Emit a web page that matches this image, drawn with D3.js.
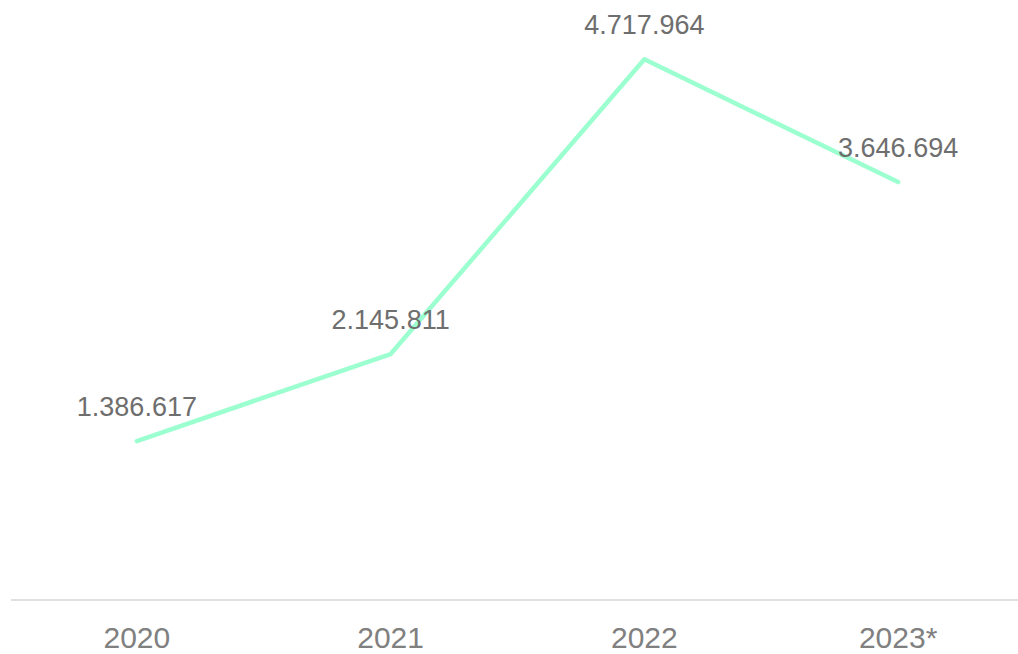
<!DOCTYPE html>
<html>
<head>
<meta charset="utf-8">
<script src="https://cdn.jsdelivr.net/npm/d3@7"></script>
<style>
  body { margin: 0; background: #fff; }
  svg { display: block; font-family: "Liberation Sans", Arial, sans-serif; }
</style>
</head>
<body>
<div id="chart"></div>
<script>
// chart data
const years = ['2020', '2021', '2022', '2023*'];
const values = [1386617, 2145811, 4717964, 3646694];
const valueLabels = ['1.386.617', '2.145.811', '4.717.964', '3.646.694'];

const width = 1018;
const height = 654;

const svg = d3.select('#chart')
    .append('svg')
    .attr('width', width)
    .attr('height', height);

// scales
const x = d3.scaleBand()
    .domain(years)
    .range([10, 1025]);

const y = d3.scaleLinear()
    .domain([0, 5000000])
    .range([600, 27]);

// baseline axis
const xAxis = svg.append('g')
    .attr('transform', 'translate(0,600)')
    .call(d3.axisBottom(x).tickSize(0).tickPadding(27));

xAxis.select('.domain')
    .attr('d', 'M11,0H1018')
    .attr('stroke', '#e0e0e0')
    .attr('stroke-width', 2);

xAxis.selectAll('text')
    .attr('font-size', 30)
    .attr('fill', '#808080')
    .attr('font-family', '"Liberation Sans", Arial, sans-serif');

// line
const line = d3.line()
    .x((d, i) => x(years[i]) + x.bandwidth() / 2)
    .y(d => y(d));

svg.append('path')
    .datum(values)
    .attr('d', line)
    .attr('fill', 'none')
    .attr('stroke', '#9cffd0')
    .attr('stroke-width', 4.5)
    .attr('stroke-linejoin', 'round')
    .attr('stroke-linecap', 'round');

// value labels
svg.selectAll('.val')
    .data(values)
    .enter()
    .append('text')
    .attr('class', 'val')
    .attr('x', (d, i) => x(years[i]) + x.bandwidth() / 2)
    .attr('y', d => y(d) - 25)
    .attr('text-anchor', 'middle')
    .attr('font-size', 27)
    .attr('fill', '#6e6e6e')
    .text((d, i) => valueLabels[i]);
</script>
</body>
</html>
